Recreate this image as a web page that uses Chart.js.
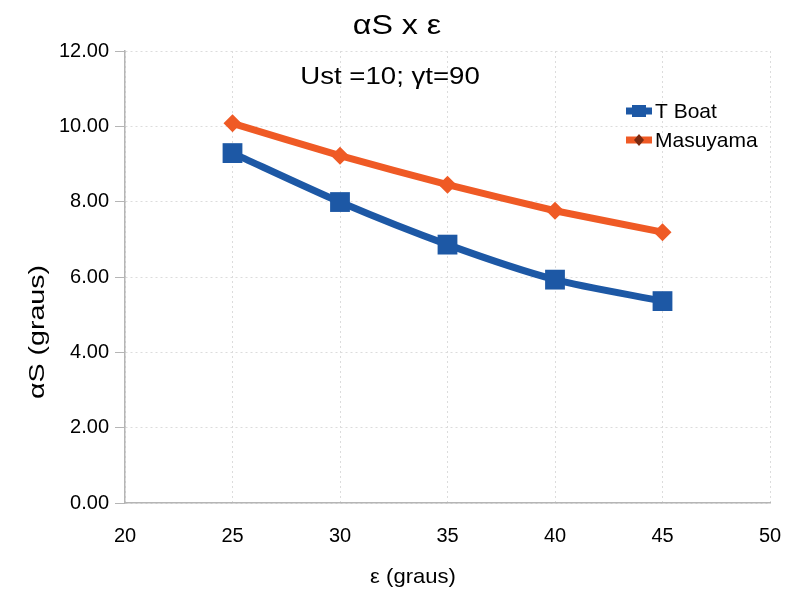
<!DOCTYPE html>
<html>
<head>
<meta charset="utf-8">
<script src="https://cdn.jsdelivr.net/npm/chart.js@4/dist/chart.umd.min.js"></script>
<style>
  html, body { margin: 0; padding: 0; background: #fff; }
  #wrap { width: 787px; height: 590px; }
</style>
</head>
<body>
<div id="wrap"><canvas id="grafico" width="787" height="590"></canvas></div>
<script>
// epsilon (graus)
const epsilon = [25, 30, 35, 40, 45];
const tBoat = [9.29, 7.99, 6.86, 5.93, 5.36];
const masuyama = [10.08, 9.22, 8.45, 7.76, 7.19];
const xTicks = [20, 25, 30, 35, 40, 45, 50];
const yTicks = [0, 2, 4, 6, 8, 10, 12];

const FONT = "'Liberation Sans', Arial, sans-serif";
const AZUL = "#1d58a5";
const LARANJA = "#ef5a25";

// texto esticado na horizontal (sx) centrado em (x, y)
function texto(ctx, str, x, y, size, sx, rot) {
  ctx.save();
  ctx.translate(x, y);
  if (rot) ctx.rotate(rot);
  ctx.scale(sx, 1);
  ctx.font = size + "px " + FONT;
  ctx.textAlign = "center";
  ctx.textBaseline = "middle";
  ctx.fillStyle = "#000";
  ctx.fillText(str, 0, 0);
  ctx.restore();
}

// titulo, subtitulo, titulos dos eixos e legenda
const extras = {
  id: "extras",
  afterDraw(chart) {
    const ctx = chart.ctx;
    texto(ctx, "αS x ε", 397, 26, 28, 1.15);
    texto(ctx, "Ust =10; γt=90", 390, 77, 24, 1.15);
    texto(ctx, "ε (graus)", 413, 577, 21, 1.05);
    texto(ctx, "αS (graus)", 38, 332, 22, 1.3, -Math.PI / 2);

    const itens = [
      { label: "T Boat", color: AZUL, marker: "square", y: 111 },
      { label: "Masuyama", color: LARANJA, marker: "diamond", y: 140 },
    ];
    ctx.save();
    ctx.font = "21px " + FONT;
    ctx.textAlign = "left";
    ctx.textBaseline = "middle";
    itens.forEach((it) => {
      ctx.strokeStyle = it.color;
      ctx.lineWidth = 7;
      ctx.beginPath();
      ctx.moveTo(626, it.y);
      ctx.lineTo(652, it.y);
      ctx.stroke();
      if (it.marker === "square") {
        ctx.fillStyle = it.color;
        ctx.fillRect(632, it.y - 6, 14, 12);
      } else {
        ctx.fillStyle = "#7a2a10";
        ctx.beginPath();
        ctx.moveTo(639, it.y - 6);
        ctx.lineTo(644, it.y);
        ctx.lineTo(639, it.y + 6);
        ctx.lineTo(634, it.y);
        ctx.closePath();
        ctx.fill();
      }
      ctx.fillStyle = "#000";
      ctx.fillText(it.label, 655, it.y + 1);
    });
    ctx.restore();
  },
};

new Chart(document.getElementById("grafico"), {
  type: "line",
  data: {
    datasets: [
      {
        label: "T Boat",
        data: epsilon.map((x, i) => ({ x, y: tBoat[i] })),
        borderColor: AZUL,
        backgroundColor: AZUL,
        borderWidth: 7,
        pointStyle: "rect",
        pointRadius: 14,
        pointBorderWidth: 0,
        tension: 0.25,
      },
      {
        label: "Masuyama",
        data: epsilon.map((x, i) => ({ x, y: masuyama[i] })),
        borderColor: LARANJA,
        backgroundColor: LARANJA,
        borderWidth: 7,
        pointStyle: "rectRot",
        pointRadius: 9,
        pointBorderWidth: 0,
        tension: 0.1,
      },
    ],
  },
  options: {
    responsive: false,
    animation: false,
    layout: { padding: { left: 0, right: 17, top: 51, bottom: 0 } },
    plugins: {
      legend: { display: false },
      tooltip: { enabled: false },
      title: { display: false },
    },
    scales: {
      x: {
        type: "linear",
        min: 20,
        max: 50,
        afterBuildTicks: (s) => { s.ticks = xTicks.map((v) => ({ value: v })); },
        afterFit: (s) => {
          s.height = 87;
          s.paddingLeft = 0;
          s.paddingRight = 0;
        },
        ticks: {
          color: "#000",
          font: { family: FONT, size: 20 },
          padding: 21,
        },
        grid: { color: "#dcdcdc", drawTicks: false },
        border: { color: "#b5b5b5", width: 1.5, dash: [2, 3] },
      },
      y: {
        min: 0,
        max: 12,
        afterBuildTicks: (s) => { s.ticks = yTicks.map((v) => ({ value: v })); },
        afterFit: (s) => {
          s.width = 125;
          s.paddingTop = 0;
          s.paddingBottom = 0;
        },
        ticks: {
          color: "#000",
          font: { family: FONT, size: 20 },
          padding: 6,
          callback: (v) => Number(v).toFixed(2),
        },
        grid: { color: "#dcdcdc", tickLength: 10, tickColor: "#b5b5b5" },
        border: { color: "#b5b5b5", width: 1.5, dash: [2, 3] },
      },
    },
  },
  plugins: [extras],
});
</script>
</body>
</html>
